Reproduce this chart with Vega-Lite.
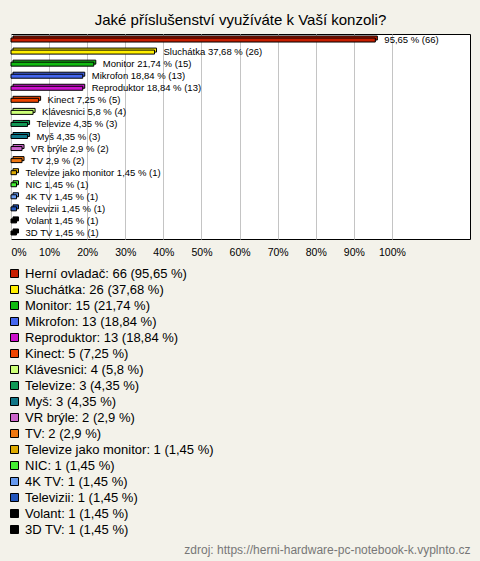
{
  "$schema": "https://vega.github.io/schema/vega-lite/v6.json",
  "width": 459,
  "height": 205,
  "autosize": {"type": "none"},
  "padding": {"left": 11, "top": 34, "right": 10, "bottom": 322},
  "background": "#f3f2ea",
  "title": {
    "text": "Jaké příslušenství využíváte k Vaší konzoli?",
    "fontSize": 15,
    "font": "Liberation Sans",
    "fontWeight": "normal",
    "color": "#000000",
    "anchor": "middle",
    "offset": 6
  },
  "data": {
    "values": [
      {"name": "Herní ovladač", "pct": 95.65, "n": 66, "label": "95,65 % (66)", "legend": "Herní ovladač: 66 (95,65 %)"},
      {"name": "Sluchátka", "pct": 37.68, "n": 26, "label": "Sluchátka 37,68 % (26)", "legend": "Sluchátka: 26 (37,68 %)"},
      {"name": "Monitor", "pct": 21.74, "n": 15, "label": "Monitor 21,74 % (15)", "legend": "Monitor: 15 (21,74 %)"},
      {"name": "Mikrofon", "pct": 18.84, "n": 13, "label": "Mikrofon 18,84 % (13)", "legend": "Mikrofon: 13 (18,84 %)"},
      {"name": "Reproduktor", "pct": 18.84, "n": 13, "label": "Reproduktor 18,84 % (13)", "legend": "Reproduktor: 13 (18,84 %)"},
      {"name": "Kinect", "pct": 7.25, "n": 5, "label": "Kinect 7,25 % (5)", "legend": "Kinect: 5 (7,25 %)"},
      {"name": "Klávesnici", "pct": 5.8, "n": 4, "label": "Klávesnici 5,8 % (4)", "legend": "Klávesnici: 4 (5,8 %)"},
      {"name": "Televize", "pct": 4.35, "n": 3, "label": "Televize 4,35 % (3)", "legend": "Televize: 3 (4,35 %)"},
      {"name": "Myš", "pct": 4.35, "n": 3, "label": "Myš 4,35 % (3)", "legend": "Myš: 3 (4,35 %)"},
      {"name": "VR brýle", "pct": 2.9, "n": 2, "label": "VR brýle 2,9 % (2)", "legend": "VR brýle: 2 (2,9 %)"},
      {"name": "TV", "pct": 2.9, "n": 2, "label": "TV 2,9 % (2)", "legend": "TV: 2 (2,9 %)"},
      {"name": "Televize jako monitor", "pct": 1.45, "n": 1, "label": "Televize jako monitor 1,45 % (1)", "legend": "Televize jako monitor: 1 (1,45 %)"},
      {"name": "NIC", "pct": 1.45, "n": 1, "label": "NIC 1,45 % (1)", "legend": "NIC: 1 (1,45 %)"},
      {"name": "4K TV", "pct": 1.45, "n": 1, "label": "4K TV 1,45 % (1)", "legend": "4K TV: 1 (1,45 %)"},
      {"name": "Televizii", "pct": 1.45, "n": 1, "label": "Televizii 1,45 % (1)", "legend": "Televizii: 1 (1,45 %)"},
      {"name": "Volant", "pct": 1.45, "n": 1, "label": "Volant 1,45 % (1)", "legend": "Volant: 1 (1,45 %)"},
      {"name": "3D TV", "pct": 1.45, "n": 1, "label": "3D TV 1,45 % (1)", "legend": "3D TV: 1 (1,45 %)"}
    ]
  },
  "encoding": {
    "y": {
      "field": "name",
      "type": "nominal",
      "sort": null,
      "axis": null,
      "scale": {"paddingInner": 0, "paddingOuter": 0}
    },
    "x": {
      "field": "pct",
      "type": "quantitative",
      "scale": {"domain": [0, 120.5], "nice": false, "zero": true},
      "axis": {
        "values": [0, 10, 20, 30, 40, 50, 60, 70, 80, 90, 100],
        "labelExpr": "datum.value + '%'",
        "grid": true,
        "gridColor": "#c4c4c4",
        "gridWidth": 1,
        "ticks": false,
        "domain": false,
        "labelFlush": true,
        "labelPadding": 8,
        "labelFontSize": 10.5,
        "labelFont": "Liberation Sans",
        "labelColor": "#000000",
        "title": "zdroj: https://herni-hardware-pc-notebook-k.vyplnto.cz",
        "titleX": 459,
        "titleY": 310,
        "titleAlign": "right",
        "titleAnchor": "end",
        "titleBaseline": "middle",
        "titleFontSize": 12,
        "titleFontWeight": "normal",
        "titleFont": "Liberation Sans",
        "titleColor": "#777777"
      }
    }
  },
  "layer": [
    {
      "mark": {"type": "bar", "height": 4, "xOffset": 2, "yOffset": -2, "stroke": "#000000", "strokeWidth": 1, "opacity": 1},
      "encoding": {
        "color": {
          "field": "legend",
          "type": "nominal",
          "scale": {
            "domain": ["Herní ovladač: 66 (95,65 %)", "Sluchátka: 26 (37,68 %)", "Monitor: 15 (21,74 %)", "Mikrofon: 13 (18,84 %)", "Reproduktor: 13 (18,84 %)", "Kinect: 5 (7,25 %)", "Klávesnici: 4 (5,8 %)", "Televize: 3 (4,35 %)", "Myš: 3 (4,35 %)", "VR brýle: 2 (2,9 %)", "TV: 2 (2,9 %)", "Televize jako monitor: 1 (1,45 %)", "NIC: 1 (1,45 %)", "4K TV: 1 (1,45 %)", "Televizii: 1 (1,45 %)", "Volant: 1 (1,45 %)", "3D TV: 1 (1,45 %)"],
            "range": ["#c81e00", "#ffee00", "#11bb11", "#4466ee", "#cc11cc", "#ee4400", "#ccff77", "#119955", "#117788", "#cc66cc", "#ee7711", "#ddaa00", "#44ee33", "#6699ee", "#2255bb", "#000000", "#000000"]
          },
          "legend": {
            "orient": "none",
            "legendX": -3,
            "legendY": 233,
            "title": null,
            "padding": 0,
            "symbolType": "square",
            "symbolSize": 64,
            "symbolStrokeColor": "#000000",
            "symbolStrokeWidth": 1,
            "symbolOpacity": 1,
            "labelFontSize": 13,
            "labelFont": "Liberation Sans",
            "labelColor": "#000000",
            "labelOffset": 4,
            "labelLimit": 400,
            "rowPadding": 2
          }
        }
      }
    },
    {
      "mark": {"type": "bar", "height": 4, "stroke": "#000000", "strokeWidth": 1, "opacity": 1},
      "encoding": {
        "color": {"field": "legend", "type": "nominal"}
      }
    },
    {
      "mark": {"type": "text", "align": "left", "baseline": "middle", "dx": 9, "fontSize": 9.5, "font": "Liberation Sans", "color": "#000000"},
      "encoding": {
        "text": {"field": "label"}
      }
    }
  ],
  "config": {
    "view": {"stroke": "#000000", "strokeWidth": 1, "fill": "#ffffff"},
    "font": "Liberation Sans"
  }
}
